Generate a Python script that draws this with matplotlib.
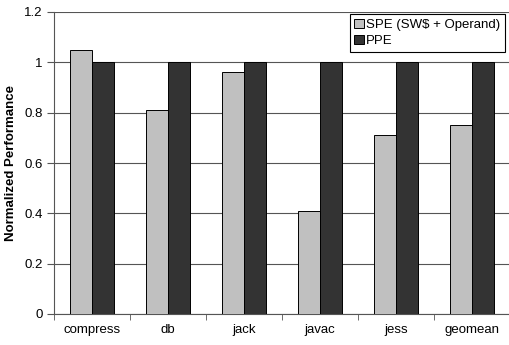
import matplotlib
matplotlib.use("Agg")
import matplotlib.pyplot as plt
import numpy as np

categories = ["compress", "db", "jack", "javac", "jess", "geomean"]
spe = [1.05, 0.81, 0.96, 0.41, 0.71, 0.75]
ppe = [1.0, 1.0, 1.0, 1.0, 1.0, 1.0]
series_names = ["SPE (SW$ + Operand)", "PPE"]
yticks = [0, 0.2, 0.4, 0.6, 0.8, 1, 1.2]
ytick_labels = ["0", "0.2", "0.4", "0.6", "0.8", "1", "1.2"]

plt.rcParams['font.family'] = ['Liberation Sans', 'DejaVu Sans']

fig = plt.figure(figsize=(5.09, 3.45), dpi=100)
ax = fig.add_axes([54/509, 1-314/345, 456/509, 302/345])

x = np.arange(len(categories))
w = 0.285
ax.bar(x - w/2, spe, width=w, color="#c0c0c0", edgecolor="black", linewidth=0.7,
       label=series_names[0], zorder=3)
ax.bar(x + w/2, ppe, width=w, color="#333333", edgecolor="black", linewidth=0.7,
       label=series_names[1], zorder=3)

ax.set_xlim(-0.5, len(categories) - 0.5)
ax.set_ylim(0, 1.2)
ax.set_yticks(yticks)
ax.set_yticklabels(ytick_labels, fontsize=9.5)
ax.yaxis.grid(True, color="#555555", linewidth=0.8, zorder=0)
ax.set_axisbelow(True)

ax.set_xticks(x)
ax.set_xticklabels(categories, fontsize=9.5)
ax.tick_params(axis='x', which='major', length=0, pad=7)
ax.set_xticks(np.arange(-0.5, len(categories)), minor=True)
ax.tick_params(axis='x', which='minor', length=4, direction='out', color="#555555")
ax.tick_params(axis='y', length=5, direction='out', color="#555555", pad=3)

for s in ["top", "right"]:
    ax.spines[s].set_visible(False)
for s in ["left", "bottom"]:
    ax.spines[s].set_color("#555555")
    ax.spines[s].set_linewidth(0.8)

ax.set_ylabel("Normalized Performance", fontsize=9.5, fontweight="bold", labelpad=5)

leg = ax.legend(loc="upper right", bbox_to_anchor=(1.0 - 5/456, 1.0 - 2/302), fontsize=9.5,
                frameon=True, fancybox=False, edgecolor="black", framealpha=1,
                handlelength=0.7, handleheight=0.7, handletextpad=0.2,
                borderpad=0.35, labelspacing=0.3, borderaxespad=0)
leg.get_frame().set_linewidth(0.8)

fig.savefig("out.png", dpi=100)
